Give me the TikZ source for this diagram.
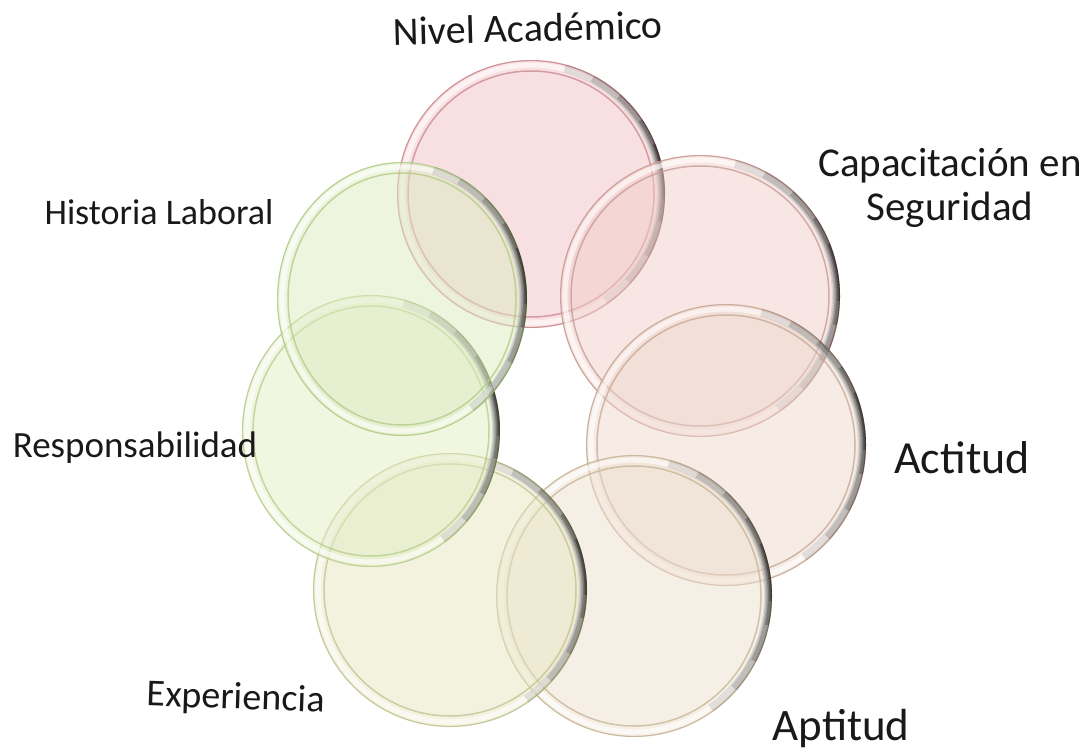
\documentclass[tikz,border=0pt]{standalone}
\usepackage{fontspec}
\setmainfont{Carlito}
\definecolor{fnivel}{HTML}{F2C2C6}\definecolor{rnivel}{HTML}{C7868B}
\definecolor{fcapac}{HTML}{F0CEC8}\definecolor{rcapac}{HTML}{C49890}
\definecolor{factit}{HTML}{EDD7CC}\definecolor{ractit}{HTML}{C4A693}
\definecolor{faptit}{HTML}{EEDFCC}\definecolor{raptit}{HTML}{C2B394}
\definecolor{fexper}{HTML}{E6E6C0}\definecolor{rexper}{HTML}{BDC28E}
\definecolor{frespo}{HTML}{E3EDC4}\definecolor{rrespo}{HTML}{B5CC8A}
\definecolor{fhisto}{HTML}{DCEBC0}\definecolor{rhisto}{HTML}{AFCB84}
\tikzset{
  lbl/.style={text=black!90, inner sep=0pt},
  shade arc/.style={black, line width=#1},
}

\begin{document}
\begin{tikzpicture}[x=1pt, y=-1pt]
\useasboundingbox (0,0) rectangle (1092,752);
\foreach \cx/\cy/\rx/\ry/\c in {531/194/134/134/nivel, 700/296/140/141/capac, 726/445/140/141/actit, 634/596/138/141/aptit, 450/590/137/137/exper, 371/431/129/136/respo, 402/299/125/137/histo}{
  \fill[f\c, fill opacity=0.5] (\cx,\cy) ellipse[x radius=\rx, y radius=\ry];
  \draw[white, line width=5pt, opacity=0.6] (\cx,\cy) ellipse[x radius=\rx-5, y radius=\ry-5];
  \draw[r\c, line width=1.5pt, opacity=0.75] (\cx,\cy) ellipse[x radius=\rx-11, y radius=\ry-11];
  \draw[r\c, line width=1.2pt, opacity=0.85] (\cx,\cy) ellipse[x radius=\rx-0.6, y radius=\ry-0.6];
  \foreach \a/\b/\w/\o in {-75/55/8/0.1, -62/42/7/0.14, -48/28/5.5/0.18, -34/12/4/0.24, -22/2/2.5/0.3}
    \draw[shade arc=\w pt, opacity=\o] (\cx,\cy) ++(\a:\rx-\w/2 and \ry-\w/2) arc[start angle=\a, end angle=\b, x radius=\rx-\w/2, y radius=\ry-\w/2];
}
\node[lbl, font=\fontsize{40}{40}\selectfont, rotate=1.5] (nivel) at (528,28) {Nivel Académico};
\node[lbl, font=\fontsize{41}{44}\selectfont, align=center] (capac) at (950,188) {Capacitación en\\Seguridad};
\node[lbl, font=\fontsize{46}{46}\selectfont] (actit) at (962,458) {Actitud};
\node[lbl, font=\fontsize{45}{45}\selectfont] (aptit) at (841,728) {Aptitud};
\node[lbl, font=\fontsize{38}{38}\selectfont, rotate=-2] (exper) at (236,699) {Experiencia};
\node[lbl, font=\fontsize{37}{37}\selectfont] (respo) at (135,448) {Responsabilidad};
\node[lbl, font=\fontsize{36}{36}\selectfont] (histo) at (159,212) {Historia Laboral};
\end{tikzpicture}
\end{document}
